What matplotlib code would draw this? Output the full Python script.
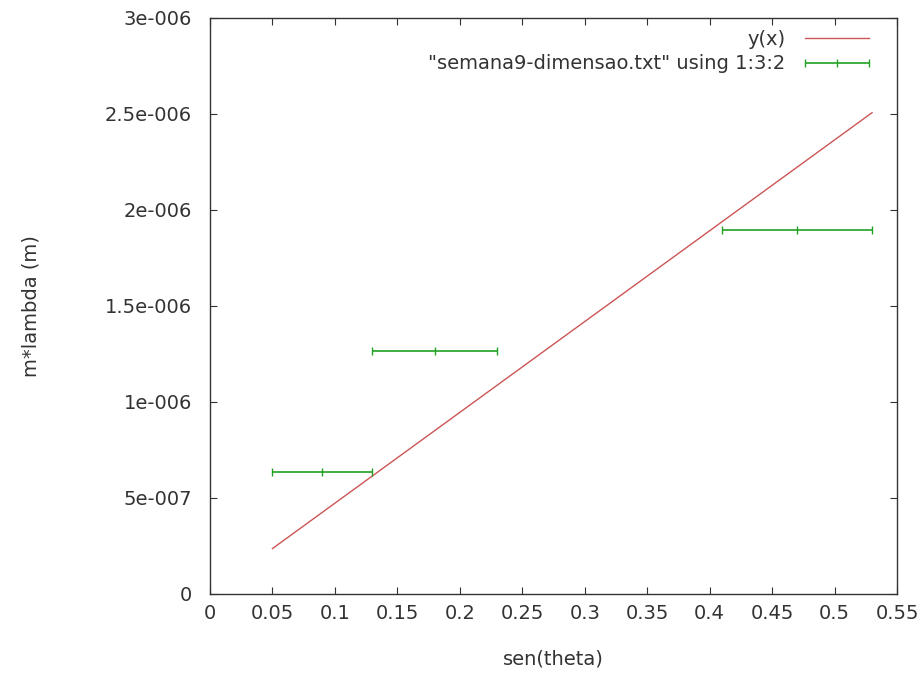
import matplotlib
matplotlib.use("Agg")
import matplotlib.pyplot as plt
from matplotlib.legend_handler import HandlerErrorbar
import numpy as np

plt.rcParams["font.family"] = ["DejaVu Sans"]

# fitted line y(x) = a*x
fit_slope = 4.73e-6
fit_x = [0.05, 0.53]

# data points: sen(theta), m*lambda, x error
sen_theta = [0.09, 0.18, 0.47]
m_lambda = [0.6328e-6, 1.2656e-6, 1.8984e-6]
sen_err = [0.04, 0.05, 0.06]

xticks = [0, 0.05, 0.1, 0.15, 0.2, 0.25, 0.3, 0.35, 0.4, 0.45, 0.5, 0.55]
xtick_labels = ["0", "0.05", "0.1", "0.15", "0.2", "0.25", "0.3", "0.35", "0.4", "0.45", "0.5", "0.55"]
yticks = [0, 0.5e-6, 1e-6, 1.5e-6, 2e-6, 2.5e-6, 3e-6]
ytick_labels = ["0", "5e-007", "1e-006", "1.5e-006", "2e-006", "2.5e-006", "3e-006"]

txt = "#333333"
fs = 14

fig = plt.figure(figsize=(9.21, 6.74), dpi=100)
ax = fig.add_axes([0.228, 0.1187, 0.746, 0.8546])

fx = np.array(fit_x)
ax.plot(fx, fit_slope * fx, color="#cc5555", linewidth=1.0, label="y(x)")
ax.errorbar(sen_theta, m_lambda, xerr=sen_err, fmt="|", color="#22a022",
            markersize=6, markeredgewidth=1.0, ecolor="#22a022",
            elinewidth=1.2, capsize=3, capthick=1.0,
            label='"semana9-dimensao.txt" using 1:3:2')

ax.set_xlim(0, 0.55)
ax.set_ylim(0, 3e-6)
ax.set_xticks(xticks)
ax.set_xticklabels(xtick_labels)
ax.set_yticks(yticks)
ax.set_yticklabels(ytick_labels)
ax.tick_params(direction="in", top=True, right=True, length=5, labelsize=fs,
               colors=txt)
ax.tick_params(axis="x", pad=7)
ax.tick_params(axis="y", pad=13)
for sp in ax.spines.values():
    sp.set_color(txt)
    sp.set_linewidth(1.0)

ax.set_xlabel("sen(theta)", fontsize=fs, color=txt)
ax.set_ylabel("m*lambda (m)", fontsize=fs, color=txt)
ax.xaxis.set_label_coords(0.5, -0.097)
ax.yaxis.set_label_coords(-0.247, 0.5)

leg = ax.legend(loc="upper right", bbox_to_anchor=(0.959, 0.98), frameon=False,
                fontsize=fs, markerfirst=False, handlelength=3.3,
                handletextpad=1.0, borderaxespad=0, borderpad=0, labelspacing=0.3,
                handler_map={type(ax.containers[0]): HandlerErrorbar(xerr_size=1.65)})
for t in leg.get_texts():
    t.set_color(txt)

fig.savefig("out.png", dpi=100)
